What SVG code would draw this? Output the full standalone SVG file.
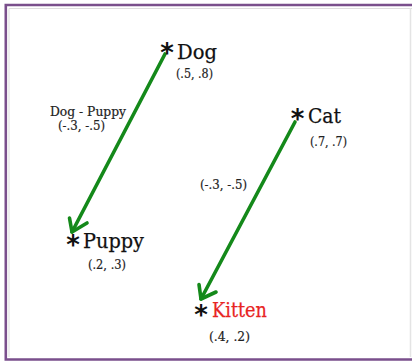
<svg xmlns="http://www.w3.org/2000/svg" width="412" height="362" viewBox="0 0 412 362">
<defs>
<style>
.big{font-family:"DejaVu Serif","Liberation Serif",serif;font-size:21px;fill:#111;stroke:#111;stroke-width:0.25}
.sm{font-family:"DejaVu Serif","Liberation Serif",serif;font-size:12px;fill:#222;stroke:#222;stroke-width:0.2}
.ast{font-family:"DejaVu Sans","Liberation Sans",sans-serif;font-size:26px;font-weight:bold;fill:#111;text-anchor:middle}
.conn{stroke:#14891a;stroke-width:3.6;fill:none;stroke-linecap:round}
.head{stroke:#14891a;stroke-width:3.6;fill:none;stroke-linecap:round;stroke-linejoin:round}
.red{fill:#e8241f;stroke:#e8241f}
</style>
</defs>
<rect width="412" height="362" fill="#fff"/>
<path d="M9 8.5 H412 M9 8.5 V357" stroke="#ddd" stroke-width="1" fill="none"/>
<line x1="410.5" y1="8" x2="410.5" y2="357" stroke="#e4e4e4" stroke-width="1.5"/>
<path d="M412 5 H5.8 V359.5 H412" stroke="#7a4f8c" stroke-width="2.6" fill="none"/>
<g id="connectors">
<line class="conn" x1="165" y1="54" x2="72" y2="232"/>
<path class="head" d="M69.5 218 L72 232 L87 223"/>
<line class="conn" x1="295" y1="122" x2="201" y2="299"/>
<path class="head" d="M199 284.5 L201 299 L216 292"/>
<text class="sm" x="50" y="116" textLength="76" lengthAdjust="spacingAndGlyphs">Dog - Puppy</text>
<text class="sm" x="58" y="130" textLength="47" lengthAdjust="spacingAndGlyphs">(-.3, -.5)</text>
<text class="sm" x="200" y="189" textLength="47" lengthAdjust="spacingAndGlyphs">(-.3, -.5)</text>
</g>
<g id="dog">
<text class="ast" x="167" y="62">*</text>
<text class="big" x="177" y="58.5" textLength="40" lengthAdjust="spacingAndGlyphs">Dog</text>
<text class="sm" x="176" y="77.5" textLength="37" lengthAdjust="spacingAndGlyphs">(.5, .8)</text>
</g>
<g id="cat">
<text class="ast" x="297.5" y="128">*</text>
<text class="big" x="308" y="122.5" textLength="33" lengthAdjust="spacingAndGlyphs">Cat</text>
<text class="sm" x="310" y="145.5" textLength="37" lengthAdjust="spacingAndGlyphs">(.7, .7)</text>
</g>
<g id="puppy">
<text class="ast" x="73" y="254">*</text>
<text class="big" x="83" y="248" textLength="61" lengthAdjust="spacingAndGlyphs">Puppy</text>
<text class="sm" x="88" y="268.5" textLength="38" lengthAdjust="spacingAndGlyphs">(.2, .3)</text>
</g>
<g id="kitten">
<text class="ast" x="201" y="324">*</text>
<text class="big red" x="212" y="317" textLength="55" lengthAdjust="spacingAndGlyphs">Kitten</text>
<text class="sm" x="209" y="341" textLength="41" lengthAdjust="spacingAndGlyphs">(.4,  .2)</text>
</g>
</svg>
